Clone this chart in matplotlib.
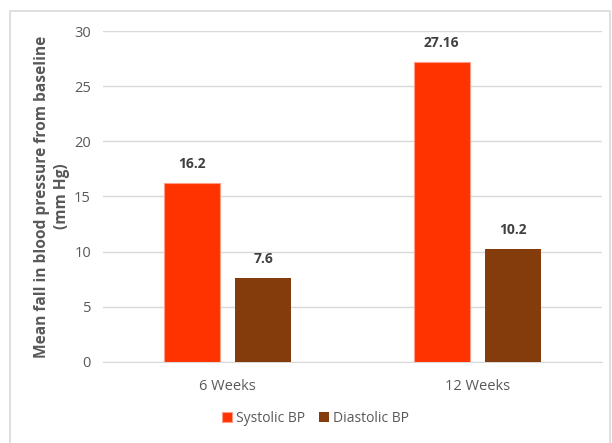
import matplotlib.pyplot as plt
import numpy as np
from matplotlib.patches import Rectangle

plt.rcParams.update({'font.family': ['Open Sans', 'DejaVu Sans']})

categories = ['6 Weeks', '12 Weeks']
systolic = [16.2, 27.16]
diastolic = [7.6, 10.2]
series_names = ['Systolic BP', 'Diastolic BP']
yticks = [0, 5, 10, 15, 20, 25, 30]

fig = plt.figure(figsize=(6.12, 4.43), dpi=100)
ax = fig.add_axes([0.168, 0.183, 0.816, 0.747])

#outer chart border
fig.patches.append(Rectangle((10/612, -0.01), 600/612, 1 - 11/443 + 0.01,
                             transform=fig.transFigure, fill=False,
                             edgecolor='#d9d9d9', linewidth=1.2))

x = np.arange(len(categories))
w = 0.225
b1 = ax.bar(x - 0.1425, systolic, w, color='#ff3300', edgecolor='#ff9c85',
            linewidth=0.8, label=series_names[0], zorder=3)
b2 = ax.bar(x + 0.1425, diastolic, w, color='#843c0c',
            label=series_names[1], zorder=3)

for bars, vals in [(b1, systolic), (b2, diastolic)]:
    for rect, v in zip(bars, vals):
        ax.annotate(f'{v:g}', (rect.get_x() + rect.get_width()/2, v),
                    xytext=(0, 9), textcoords='offset points',
                    ha='center', va='bottom', fontsize=10,
                    fontweight='bold', color='#404040')

ax.set_xlim(-0.5, 1.5)
ax.set_ylim(0, 30)
ax.set_yticks(yticks)
ax.set_xticks(x)
ax.set_xticklabels(categories)
ax.grid(axis='y', color='#d9d9d9', linewidth=1, zorder=0)
for s in ['top', 'right', 'left']:
    ax.spines[s].set_visible(False)
ax.spines['bottom'].set_color('#d9d9d9')
ax.tick_params(axis='both', length=0, colors='#595959', labelsize=10.5)
ax.tick_params(axis='x', pad=12)
ax.tick_params(axis='y', pad=8.5)

ax.set_ylabel('Mean fall in blood pressure from baseline\n(mm Hg)',
              fontsize=11.2, fontweight='bold', color='#595959',
              linespacing=1.3)
ax.yaxis.set_label_coords(-0.066, 0.5)

fig.legend(loc='center', bbox_to_anchor=(0.516, 0.056), ncol=2, frameon=False,
           fontsize=10, labelcolor='#595959', handlelength=0.7,
           handleheight=0.7, handletextpad=0.3, columnspacing=1.0)

fig.savefig('out.png', dpi=100)
